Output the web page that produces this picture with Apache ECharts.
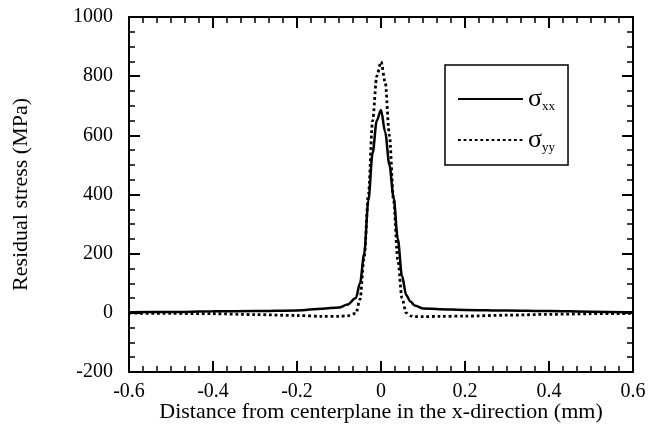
<!DOCTYPE html>
<html>
<head>
<meta charset="utf-8">
<script src="https://cdn.jsdelivr.net/npm/echarts@6/dist/echarts.min.js"></script>
<style>
  html, body { margin: 0; padding: 0; background: #fff; }
  #chart { width: 652px; height: 441px; }
</style>
</head>
<body>
<div id="chart"></div>
<script>
// distance from centerplane (mm)
var positions = [-0.6, -0.5, -0.4, -0.3, -0.2, -0.14, -0.1, -0.08, -0.06, -0.05, -0.04, -0.03, -0.02, -0.01, 0,
    0.01, 0.02, 0.03, 0.04, 0.05, 0.06, 0.07, 0.08, 0.1, 0.14, 0.2, 0.3, 0.4, 0.5, 0.6];
// residual stress (MPa)
var sigmaXX = [2, 3, 5, 6, 8, 14, 18, 28, 50, 100, 200, 380, 540, 650, 686,
    610, 500, 390, 250, 125, 60, 38, 25, 15, 12, 10, 8, 6, 4, 2];
var sigmaYY = [-1, -2, -3, -6, -9, -12, -12, -10, -2, 45, 190, 400, 650, 800, 849,
    780, 600, 380, 180, 50, 0, -10, -13, -13, -12, -11, -8, -5, -3, -2];
var seriesNames = ['xx', 'yy'];

function pairs(ys) {
    return positions.map(function (x, i) { return [x, ys[i]]; });
}

var font = 'Liberation Serif';
var chart = echarts.init(document.getElementById('chart'));

function xAxisOpt(pos, labels) {
    return {
        type: 'value', position: pos, min: -0.6, max: 0.6, interval: 0.2,
        axisLine: { onZero: false, lineStyle: { color: '#000', width: 2 } },
        axisTick: { inside: true, length: 11, lineStyle: { color: '#000', width: 2 } },
        minorTick: { show: true, splitNumber: 6, length: 6, lineStyle: { color: '#000', width: 1.5 } },
        splitLine: { show: false },
        axisLabel: {
            show: labels, color: '#000', fontFamily: font, fontSize: 20, margin: 10,
            formatter: function (v) { return Math.abs(v) < 1e-9 ? '0' : v.toFixed(1); }
        },
        name: labels ? 'Distance from centerplane in the x-direction (mm)' : '',
        nameLocation: 'middle', nameGap: 29, nameMoveOverlap: false,
        nameTextStyle: { color: '#000', fontFamily: font, fontSize: 22 }
    };
}

function yAxisOpt(pos, labels) {
    return {
        type: 'value', position: pos, min: -200, max: 1000, interval: 200,
        axisLine: { onZero: false, lineStyle: { color: '#000', width: 2 } },
        axisTick: { inside: true, length: 11, lineStyle: { color: '#000', width: 2 } },
        minorTick: { show: true, splitNumber: 4, length: 6, lineStyle: { color: '#000', width: 1.5 } },
        splitLine: { show: false },
        axisLabel: {
            show: labels, color: '#000', fontFamily: font, fontSize: 20, margin: 16,
            formatter: function (v) { return String(v); }
        },
        name: labels ? 'Residual stress (MPa)' : '',
        nameLocation: 'middle', nameGap: 97, nameMoveOverlap: false,
        nameTextStyle: { color: '#000', fontFamily: font, fontSize: 22 }
    };
}

chart.setOption({
    animation: false,
    backgroundColor: '#fff',
    grid: { left: 129, right: 19, top: 17, bottom: 69 },
    xAxis: [xAxisOpt('bottom', true), xAxisOpt('top', false)],
    yAxis: [yAxisOpt('left', true), yAxisOpt('right', false)],
    legend: {
        orient: 'vertical', left: 445, top: 65,
        padding: [19, 13, 11, 12], itemGap: 12,
        itemWidth: 65, itemHeight: 14,
        borderColor: '#000', borderWidth: 1.5,
        itemStyle: { opacity: 0 },
        data: seriesNames,
        formatter: function (n) { return '{s|σ}{b|' + n + '}'; },
        textStyle: {
            color: '#000', fontFamily: font,
            rich: {
                s: { fontSize: 26, fontFamily: font, lineHeight: 28, verticalAlign: 'middle' },
                b: { fontSize: 13, fontFamily: font, lineHeight: 28, verticalAlign: 'bottom', padding: [16, 0, 0, 0] }
            }
        }
    },
    series: [{
        name: 'xx', type: 'line', data: pairs(sigmaXX),
        smooth: 0.3, smoothMonotone: 'x', symbol: 'none',
        lineStyle: { color: '#000', width: 2.5, type: 'solid' },
        itemStyle: { color: '#000' }
    }, {
        name: 'yy', type: 'line', data: pairs(sigmaYY),
        smooth: 0.3, smoothMonotone: 'x', symbol: 'none',
        lineStyle: { color: '#000', width: 2.8, type: [2.8, 2.8] },
        itemStyle: { color: '#000' }
    }]
});
</script>
</body>
</html>
